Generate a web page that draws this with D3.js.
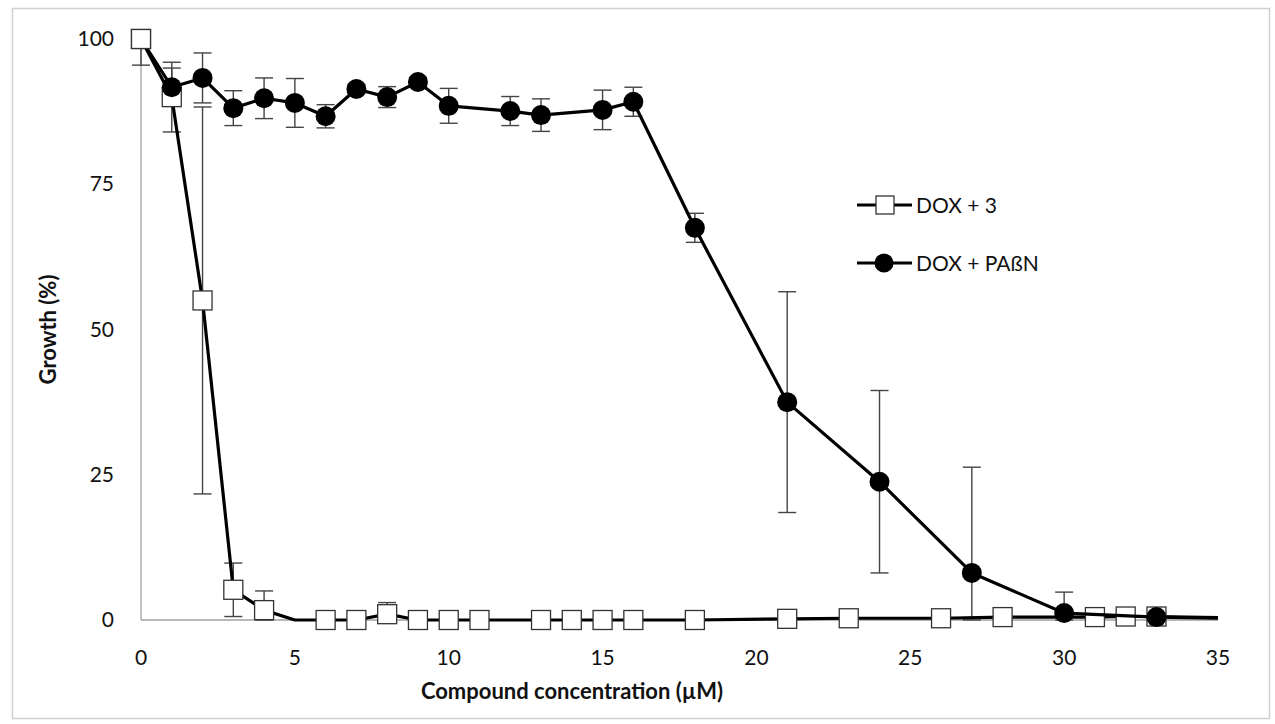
<!DOCTYPE html>
<html>
<head>
<meta charset="utf-8">
<script src="https://cdn.jsdelivr.net/npm/d3@7"></script>
<style>
  body { margin: 0; background: #fff; }
  text { font-family: Lato, "Open Sans", sans-serif; fill: #111; }
</style>
</head>
<body>
<svg id="chart" width="1275" height="724"></svg>
<script>
// concentrations (uM) for each series
const doxX   = [0, 1, 2, 3, 4, 5, 6, 7, 8, 9, 10, 11, 13, 14, 15, 16, 18, 21, 23, 26, 28, 31, 32, 33, 35];
const doxY   = [100, 90, 55, 5.2, 1.7, 0, 0, 0, 1, 0, 0, 0, 0, 0, 0, 0, 0, 0.2, 0.3, 0.3, 0.5, 0.5, 0.6, 0.6, 0.4];
const doxErr = [4.5, 6, 33.3, 4.6, 3.3, 0, 0, 0, 2, 0, 0, 0, 0, 0, 0, 0, 0, 0, 0, 0, 0, 0, 0, 0, 0];
const doxNoMark = [5, 35];

const pabnX   = [0, 1, 2, 3, 4, 5, 6, 7, 8, 9, 10, 12, 13, 15, 16, 18, 21, 24, 27, 30, 33, 35];
const pabnY   = [100, 91.7, 93.3, 88.1, 89.8, 89, 86.7, 91.4, 90, 92.6, 88.5, 87.6, 86.9, 87.8, 89.2, 67.5, 37.5, 23.8, 8.1, 1.2, 0.5, 0.3];
const pabnErr = [0, 3.3, 4.3, 3, 3.5, 4.2, 2, 0.8, 1.8, 0.8, 3, 2.5, 2.8, 3.4, 2.5, 2.5, 19, 15.7, 18.2, 3.6, 0, 0];
const pabnNoMark = [0, 35];

const xTicks = [0, 5, 10, 15, 20, 25, 30, 35];
const yTicks = [0, 25, 50, 75, 100];

const svg = d3.select("#chart");
const x = d3.scaleLinear().domain([0, 35]).range([141, 1218]);
const y = d3.scaleLinear().domain([0, 100]).range([620, 39]);

// outer frame
svg.append("rect")
  .attr("x", 12.5).attr("y", 8.5).attr("width", 1257).attr("height", 710)
  .attr("fill", "none").attr("stroke", "#d0d0d0").attr("stroke-width", 1.5);

// axis lines
svg.append("line")
  .attr("x1", x(0)).attr("x2", x(0)).attr("y1", y(100)).attr("y2", y(0))
  .attr("stroke", "#a0a0a0").attr("stroke-width", 1.3);
svg.append("line")
  .attr("x1", x(0)).attr("x2", x(35)).attr("y1", y(0)).attr("y2", y(0))
  .attr("stroke", "#a0a0a0").attr("stroke-width", 1.3);

// tick labels
svg.append("g").selectAll("text").data(xTicks).enter().append("text")
  .attr("x", d => x(d)).attr("y", 665)
  .attr("text-anchor", "middle").attr("font-size", 21)
  .text(d => d);
svg.append("g").selectAll("text").data(yTicks).enter().append("text")
  .attr("x", 114).attr("y", d => y(d) + 7)
  .attr("text-anchor", "end").attr("font-size", 21)
  .text(d => d);

// axis titles
svg.append("text")
  .attr("x", 572).attr("y", 699)
  .attr("text-anchor", "middle").attr("font-size", 22).attr("font-weight", "bold")
  .text("Compound concentration (µM)");
svg.append("text")
  .attr("transform", "translate(56," + y(50) + ") rotate(-90)")
  .attr("text-anchor", "middle").attr("font-size", 22).attr("font-weight", "bold")
  .text("Growth (%)");

function pts(xs, ys, es, noMark) {
  return xs.map((v, i) => ({x: v, y: ys[i], e: es[i], mark: noMark.indexOf(v) < 0}));
}
const dox = pts(doxX, doxY, doxErr, doxNoMark);
const pabn = pts(pabnX, pabnY, pabnErr, pabnNoMark);

function errorBars(data) {
  let g = svg.append("g").attr("stroke", "#444").attr("stroke-width", 1.4);
  data.filter(d => d.e > 0).forEach(d => {
    let lo = Math.max(0, d.y - d.e), hi = Math.min(100, d.y + d.e);
    g.append("line").attr("x1", x(d.x)).attr("x2", x(d.x)).attr("y1", y(lo)).attr("y2", y(hi));
    g.append("line").attr("x1", x(d.x) - 9).attr("x2", x(d.x) + 9).attr("y1", y(lo)).attr("y2", y(lo));
    if (hi < 100) g.append("line").attr("x1", x(d.x) - 9).attr("x2", x(d.x) + 9).attr("y1", y(hi)).attr("y2", y(hi));
  });
}
errorBars(pabn);
errorBars(dox);

const line = d3.line().x(d => x(d.x)).y(d => y(d.y));

// DOX + 3 series (drawn first, PAßN sits on top)
svg.append("path").datum(dox).attr("d", line)
  .attr("fill", "none").attr("stroke", "#000").attr("stroke-width", 3.2).attr("stroke-linejoin", "round");
svg.append("g").selectAll("rect").data(dox.filter(d => d.mark)).enter().append("rect")
  .attr("x", d => x(d.x) - 9.5).attr("y", d => y(d.y) - 9.5)
  .attr("width", 19).attr("height", 19)
  .attr("fill", "#fff").attr("stroke", "#333").attr("stroke-width", 1.3);

// PAßN series
svg.append("path").datum(pabn).attr("d", line)
  .attr("fill", "none").attr("stroke", "#000").attr("stroke-width", 3.2).attr("stroke-linejoin", "round");
svg.append("g").selectAll("circle").data(pabn.filter(d => d.mark)).enter().append("circle")
  .attr("cx", d => x(d.x)).attr("cy", d => y(d.y)).attr("r", 10)
  .attr("fill", "#000");

// square at 0 stays visible above the PAßN line
svg.append("rect")
  .attr("x", x(doxX[0]) - 9.5).attr("y", y(doxY[0]) - 9.5)
  .attr("width", 19).attr("height", 19)
  .attr("fill", "#fff").attr("stroke", "#333").attr("stroke-width", 1.3);

// legend
const legend = svg.append("g");
[["DOX + 3", 205, "square"], ["DOX + PAßN", 263, "circle"]].forEach(l => {
  legend.append("line").attr("x1", 857).attr("x2", 912).attr("y1", l[1]).attr("y2", l[1])
    .attr("stroke", "#000").attr("stroke-width", 3.2);
  if (l[2] == "square") {
    legend.append("rect").attr("x", 876).attr("y", l[1] - 9).attr("width", 18).attr("height", 18)
      .attr("fill", "#fff").attr("stroke", "#333").attr("stroke-width", 1.3);
  } else {
    legend.append("circle").attr("cx", 884).attr("cy", l[1]).attr("r", 9.5).attr("fill", "#000");
  }
  legend.append("text").attr("x", 916).attr("y", l[1] + 8).attr("font-size", 21).text(l[0]);
});
</script>
</body>
</html>
